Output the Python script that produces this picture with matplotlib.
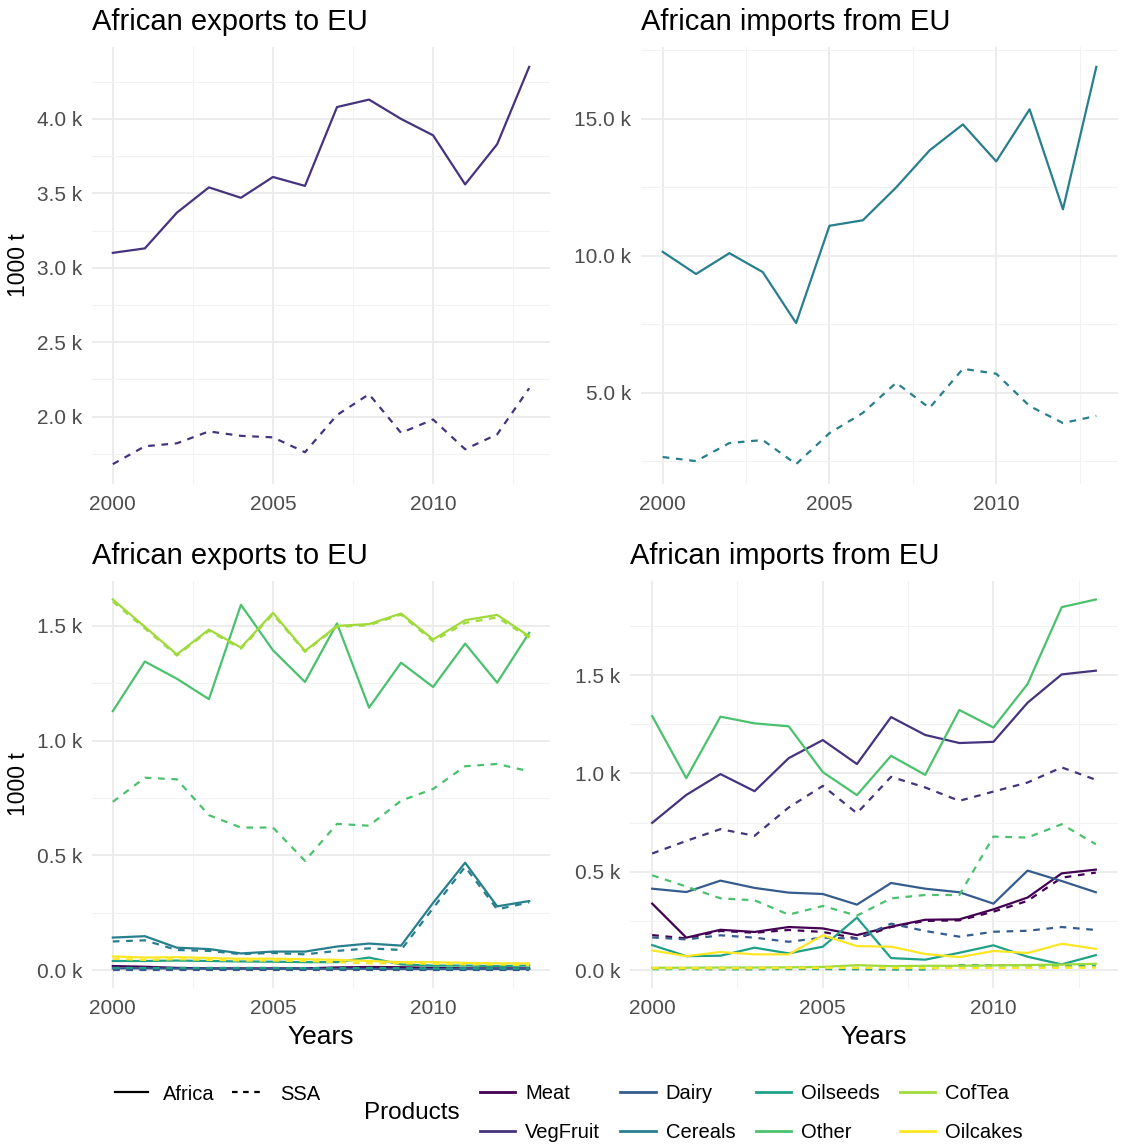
import numpy as np
import matplotlib
matplotlib.use("Agg")
import matplotlib.pyplot as plt
from matplotlib.lines import Line2D
from matplotlib.ticker import MultipleLocator, FuncFormatter

plt.rcParams["font.family"] = ["Liberation Sans", "DejaVu Sans"]

years = np.arange(2000, 2014)
products = ["Meat", "VegFruit", "Dairy", "Cereals", "Oilseeds", "Other", "CofTea", "Oilcakes"]
colors = ["#440154", "#46337E", "#365C8D", "#277F8E", "#1FA187", "#4AC16D", "#9FDA3A", "#FDE725"]

# values in 1000 t
exp_africa = {
    "Meat": [18, 15, 10, 8, 8, 8, 8, 12, 14, 13, 10, 8, 8, 8],
    "VegFruit": [3100, 3130, 3370, 3540, 3470, 3610, 3550, 4080, 4130, 4000, 3890, 3560, 3830, 4350],
    "Dairy": [8, 8, 7, 7, 6, 6, 6, 6, 6, 5, 5, 5, 5, 5],
    "Cereals": [142, 148, 98, 92, 73, 81, 81, 103, 116, 107, 293, 468, 278, 301],
    "Oilseeds": [40, 40, 42, 40, 38, 37, 35, 35, 55, 25, 20, 20, 18, 20],
    "Other": [1128, 1344, 1269, 1180, 1591, 1393, 1255, 1510, 1143, 1339, 1233, 1422, 1252, 1469],
    "CofTea": [1614, 1495, 1375, 1483, 1405, 1556, 1390, 1499, 1507, 1553, 1440, 1524, 1547, 1454],
    "Oilcakes": [60, 55, 57, 53, 50, 50, 48, 45, 40, 35, 35, 32, 30, 30],
}
exp_ssa = {
    "Meat": [5, 5, 4, 4, 4, 4, 4, 5, 5, 5, 4, 4, 4, 4],
    "VegFruit": [1680, 1800, 1820, 1900, 1870, 1860, 1760, 2010, 2150, 1890, 1980, 1780, 1880, 2190],
    "Dairy": [3, 3, 3, 3, 3, 3, 3, 3, 3, 3, 3, 3, 3, 3],
    "Cereals": [125, 130, 88, 84, 70, 75, 69, 84, 95, 88, 270, 450, 265, 295],
    "Oilseeds": [10, 10, 10, 10, 10, 10, 9, 9, 10, 9, 8, 8, 8, 8],
    "Other": [733, 838, 831, 675, 621, 621, 476, 637, 629, 738, 789, 888, 898, 866],
    "CofTea": [1605, 1488, 1370, 1478, 1400, 1550, 1386, 1495, 1502, 1548, 1432, 1512, 1536, 1448],
    "Oilcakes": [50, 45, 48, 45, 42, 42, 40, 35, 30, 30, 28, 25, 25, 22],
}
imp_africa = {
    "Meat": [338, 165, 205, 194, 219, 212, 178, 221, 256, 258, 309, 369, 492, 511],
    "VegFruit": [749, 891, 997, 910, 1078, 1170, 1048, 1287, 1196, 1155, 1161, 1360, 1504, 1523],
    "Dairy": [414, 397, 455, 418, 394, 387, 333, 443, 414, 396, 338, 506, 453, 396],
    "Cereals": [10150, 9340, 10100, 9410, 7550, 11100, 11300, 12500, 13850, 14800, 13450, 15350, 11700, 16900],
    "Oilseeds": [127, 71, 73, 114, 85, 119, 267, 61, 53, 88, 126, 68, 29, 76],
    "Other": [1292, 976, 1289, 1255, 1240, 1007, 890, 1090, 993, 1323, 1234, 1455, 1846, 1885],
    "CofTea": [12, 12, 13, 13, 14, 16, 25, 20, 22, 22, 24, 26, 28, 32],
    "Oilcakes": [100, 71, 92, 80, 80, 177, 122, 119, 82, 66, 97, 87, 134, 108],
}
imp_ssa = {
    "Meat": [178, 161, 199, 190, 204, 194, 161, 219, 250, 253, 297, 352, 470, 496],
    "VegFruit": [593, 657, 717, 683, 827, 937, 798, 983, 929, 861, 908, 954, 1031, 968],
    "Dairy": [166, 156, 177, 165, 144, 165, 160, 236, 199, 170, 195, 200, 219, 204],
    "Cereals": [2660, 2510, 3170, 3280, 2400, 3530, 4270, 5370, 4450, 5880, 5700, 4520, 3900, 4160],
    "Oilseeds": [5, 5, 4, 4, 5, 5, 4, 3, 3, 25, 25, 24, 23, 25],
    "Other": [482, 425, 365, 355, 282, 326, 277, 365, 382, 382, 679, 674, 742, 640],
    "CofTea": [8, 8, 8, 9, 9, 10, 12, 10, 12, 12, 13, 13, 14, 16],
    "Oilcakes": [10, 10, 10, 10, 11, 12, 11, 11, 10, 10, 11, 11, 12, 12],
}

W, H = 1122, 1144
fig = plt.figure(figsize=(W / 100, H / 100), dpi=100)


def panel(x0, y0, x1, y1):
    return fig.add_axes([x0 / W, 1 - y1 / H, (x1 - x0) / W, (y1 - y0) / H])


grey = "#4D4D4D"
kfmt = FuncFormatter(lambda v, p: f"{v / 1000:.1f} k")


def style(ax, title, major, ylabel=False, xlabel=False):
    ax.set_facecolor("white")
    for s in ax.spines.values():
        s.set_visible(False)
    ax.xaxis.set_major_locator(MultipleLocator(5))
    ax.xaxis.set_minor_locator(MultipleLocator(2.5))
    ax.yaxis.set_major_locator(MultipleLocator(major))
    ax.yaxis.set_minor_locator(MultipleLocator(major / 2))
    ax.yaxis.set_major_formatter(kfmt)
    ax.grid(which="major", color="#EBEBEB", lw=1.3)
    ax.grid(which="minor", color="#F2F2F2", lw=0.8)
    ax.set_axisbelow(True)
    ax.tick_params(which="both", length=0, labelsize=15, labelcolor=grey)
    ax.tick_params(axis="x", pad=8)
    ax.tick_params(axis="y", pad=7)
    ax.set_xlim(2000 - 0.65, 2013 + 0.65)
    ax.set_title(title, loc="left", fontsize=21, pad=12)
    if ylabel:
        ax.set_ylabel("1000 t", fontsize=16.5, labelpad=5)
    if xlabel:
        ax.set_xlabel("Years", fontsize=19, labelpad=5)


def draw(ax, af, ssa, prods):
    for p, c in zip(products, colors):
        if p not in prods:
            continue
        ax.plot(years, af[p], color=c, lw=1.6)
        ax.plot(years, ssa[p], color=c, lw=1.6, ls=(0, (3, 3)))
    ax.margins(y=0.05)


ax1 = panel(92, 47, 550, 484)
draw(ax1, exp_africa, exp_ssa, ["VegFruit"])
style(ax1, "African exports to EU", 500, ylabel=True)

ax2 = panel(641, 47, 1118, 484)
draw(ax2, imp_africa, imp_ssa, ["Cereals"])
style(ax2, "African imports from EU", 5000)

ax3 = panel(92, 581, 550, 988)
draw(ax3, exp_africa, exp_ssa, [p for p in products if p != "VegFruit"])
style(ax3, "African exports to EU", 500, ylabel=True, xlabel=True)

ax4 = panel(630, 581, 1118, 988)
draw(ax4, imp_africa, imp_ssa, [p for p in products if p != "Cereals"])
style(ax4, "African imports from EU", 500, xlabel=True)

# legends
lt_handles = [Line2D([], [], color="black", lw=1.6),
              Line2D([], [], color="black", lw=1.6, ls=(0, (2.5, 2.5)))]
fig.legend(lt_handles, ["Africa", "SSA"], ncol=2, frameon=False,
           loc="center left", bbox_to_anchor=(115 / W, 1 - 1094 / H),
           borderpad=0, borderaxespad=0,
           fontsize=14.5, handlelength=1.65, columnspacing=0.85, handletextpad=0.75)

col_handles = [Line2D([], [], color=c, lw=2) for c in colors]
fig.legend(col_handles, products, ncol=4, frameon=False,
           loc="center left", bbox_to_anchor=(480 / W, 1 - 1113 / H),
           borderpad=0, borderaxespad=0,
           fontsize=14.5, handlelength=1.75, columnspacing=1.0,
           handletextpad=0.5, labelspacing=1.0)
fig.text(412 / W, 1 - 1113 / H, "Products", fontsize=17.5, ha="center", va="center")

fig.savefig("out.png", dpi=100, facecolor="white")
